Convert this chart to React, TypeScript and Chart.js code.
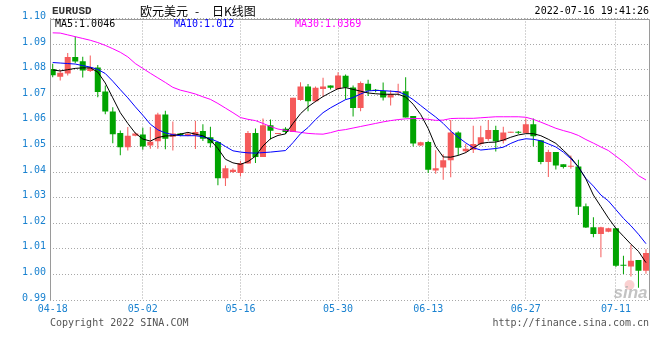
import React, { useEffect, useRef } from "react";
import { Chart, registerables } from "chart.js";

Chart.register(...registerables);

// ---- data ----
const opens = [
  1.0803, 1.0772, 1.0785, 1.0850, 1.0833, 1.0795, 1.0809, 1.0715, 1.0637, 1.0553,
  1.0497, 1.0542, 1.0547, 1.0504, 1.0520, 1.0625, 1.0538, 1.0551, 1.0542, 1.0543,
  1.0560, 1.0536, 1.0517, 1.0376, 1.0400, 1.0396, 1.0433, 1.0553, 1.0459, 1.0583,
  1.0549, 1.0569, 1.0556, 1.0682, 1.0734, 1.0677, 1.0725, 1.0738, 1.0725, 1.0776,
  1.0730, 1.0650, 1.0745, 1.0722, 1.0717, 1.0691, 1.0711, 1.0716, 1.0619, 1.0504,
  1.0517, 1.0406, 1.0418, 1.0446, 1.0555, 1.0481, 1.0487, 1.0510, 1.0529, 1.0564,
  1.0522, 1.0554, 1.0556, 1.0553, 1.0587, 1.0524, 1.0439, 1.0478, 1.0430, 1.0421,
  1.0422, 1.0266, 1.0184, 1.0158, 1.0167, 1.0180, 1.0036, 1.0031, 1.0056, 1.0014,
];
const closes = [
  1.0778, 1.0788, 1.0850, 1.0832, 1.0797, 1.0809, 1.0713, 1.0637, 1.0548, 1.0497,
  1.0542, 1.0551, 1.0500, 1.0518, 1.0625, 1.0530, 1.0551, 1.0543, 1.0550, 1.0556,
  1.0530, 1.0513, 1.0376, 1.0415, 1.0409, 1.0435, 1.0553, 1.0459, 1.0583, 1.0561,
  1.0551, 1.0556, 1.0690, 1.0734, 1.0677, 1.0729, 1.0734, 1.0729, 1.0777, 1.0730,
  1.0650, 1.0748, 1.0718, 1.0717, 1.0691, 1.0705, 1.0716, 1.0613, 1.0512, 1.0516,
  1.0409, 1.0415, 1.0446, 1.0555, 1.0495, 1.0491, 1.0510, 1.0536, 1.0564, 1.0520,
  1.0555, 1.0556, 1.0554, 1.0587, 1.0540, 1.0439, 1.0478, 1.0426, 1.0420, 1.0423,
  1.0264, 1.0183, 1.0158, 1.0184, 1.0180, 1.0034, 1.0034, 1.0053, 1.0014, 1.0084,
];
const highs = [
  1.0823, 1.0800, 1.0865, 1.0930, 1.0851, 1.0855, 1.0818, 1.0738, 1.0653, 1.0562,
  1.0576, 1.0555, 1.0573, 1.0576, 1.0632, 1.0640, 1.0598, 1.0553, 1.0554, 1.0600,
  1.0587, 1.0577, 1.0519, 1.0426, 1.0415, 1.0443, 1.0560, 1.0570, 1.0609, 1.0605,
  1.0551, 1.0575, 1.0690, 1.0751, 1.0744, 1.0734, 1.0768, 1.0738, 1.0790, 1.0781,
  1.0738, 1.0754, 1.0761, 1.0725, 1.0750, 1.0720, 1.0745, 1.0770, 1.0619, 1.0518,
  1.0522, 1.0485, 1.0470, 1.0603, 1.0559, 1.0510, 1.0581, 1.0581, 1.0603, 1.0581,
  1.0577, 1.0556, 1.0560, 1.0609, 1.0609, 1.0524, 1.0487, 1.0478, 1.0430, 1.0465,
  1.0448, 1.0277, 1.0223, 1.0186, 1.0182, 1.0180, 1.0073, 1.0116, 1.0056, 1.0098,
];
const lows = [
  1.0770, 1.0758, 1.0777, 1.0825, 1.0769, 1.0791, 1.0692, 1.0626, 1.0513, 1.0466,
  1.0484, 1.0540, 1.0487, 1.0491, 1.0491, 1.0489, 1.0484, 1.0540, 1.0540, 1.0490,
  1.0521, 1.0496, 1.0348, 1.0345, 1.0396, 1.0383, 1.0433, 1.0435, 1.0459, 1.0527,
  1.0549, 1.0549, 1.0556, 1.0679, 1.0638, 1.0673, 1.0694, 1.0723, 1.0721, 1.0683,
  1.0617, 1.0638, 1.0697, 1.0712, 1.0680, 1.0660, 1.0700, 1.0613, 1.0500, 1.0502,
  1.0396, 1.0393, 1.0370, 1.0380, 1.0465, 1.0475, 1.0474, 1.0504, 1.0522, 1.0480,
  1.0512, 1.0554, 1.0549, 1.0553, 1.0500, 1.0430, 1.0381, 1.0410, 1.0414, 1.0413,
  1.0232, 1.0181, 1.0145, 1.0067, 1.0165, 1.0029, 1.0002, 0.9992, 0.9948, 1.0003,
];
const ma5 = [
  1.0799, 1.0795, 1.0800, 1.0805, 1.0807, 1.0807, 1.0791, 1.0748, 1.0690, 1.0632,
  1.0590, 1.0552, 1.0529, 1.0521, 1.0535, 1.0541, 1.0542, 1.0548, 1.0555, 1.0548,
  1.0542, 1.0525, 1.0492, 1.0450, 1.0436, 1.0430, 1.0441, 1.0462, 1.0502, 1.0530,
  1.0543, 1.0549, 1.0590, 1.0628, 1.0655, 1.0676, 1.0695, 1.0711, 1.0726, 1.0730,
  1.0723, 1.0716, 1.0709, 1.0706, 1.0704, 1.0704, 1.0704, 1.0693, 1.0665, 1.0625,
  1.0570, 1.0500, 1.0459, 1.0458, 1.0465, 1.0476, 1.0495, 1.0512, 1.0516, 1.0517,
  1.0525, 1.0536, 1.0545, 1.0550, 1.0550, 1.0542, 1.0528, 1.0512, 1.0485, 1.0457,
  1.0420, 1.0373, 1.0310, 1.0265, 1.0220, 1.0180, 1.0149, 1.0118, 1.0090, 1.0046,
];
const ma10 = [
  1.0828, 1.0826, 1.0824, 1.0822, 1.0816, 1.0810, 1.0801, 1.0785, 1.0755, 1.0722,
  1.0690, 1.0655, 1.0622, 1.0587, 1.0565, 1.0553, 1.0546, 1.0542, 1.0542, 1.0542,
  1.0538, 1.0530, 1.0518, 1.0500, 1.0483, 1.0478, 1.0475, 1.0474, 1.0476, 1.0478,
  1.0481, 1.0484, 1.0515, 1.0550, 1.0574, 1.0605, 1.0632, 1.0651, 1.0667, 1.0683,
  1.0691, 1.0705, 1.0717, 1.0719, 1.0718, 1.0716, 1.0714, 1.0702, 1.0683, 1.0660,
  1.0637, 1.0615, 1.0590, 1.0560, 1.0536, 1.0514, 1.0495, 1.0486, 1.0489, 1.0492,
  1.0497, 1.0512, 1.0524, 1.0530, 1.0528, 1.0522, 1.0510, 1.0498, 1.0478, 1.0452,
  1.0420, 1.0375, 1.0345, 1.0310, 1.0287, 1.0253, 1.0219, 1.0190, 1.0157, 1.0120,
];
const ma30 = [
  1.0944, 1.0943, 1.0936, 1.0929, 1.0922, 1.0915, 1.0906, 1.0895, 1.0882, 1.0868,
  1.0850, 1.0824, 1.0805, 1.0786, 1.0768, 1.0750, 1.0731, 1.0720, 1.0713, 1.0705,
  1.0694, 1.0684, 1.0668, 1.0650, 1.0632, 1.0613, 1.0606, 1.0601, 1.0590, 1.0578,
  1.0568, 1.0563, 1.0559, 1.0555, 1.0551, 1.0549, 1.0548, 1.0554, 1.0562, 1.0566,
  1.0572, 1.0578, 1.0584, 1.0590, 1.0596, 1.0601, 1.0605, 1.0608, 1.0609, 1.0609,
  1.0606, 1.0602, 1.0603, 1.0609, 1.0610, 1.0610, 1.0610, 1.0612, 1.0614, 1.0616,
  1.0616, 1.0616, 1.0616, 1.0614, 1.0606, 1.0595, 1.0583, 1.0571, 1.0562, 1.0554,
  1.0543, 1.0527, 1.0513, 1.0498, 1.0484, 1.0462, 1.0440, 1.0414, 1.0386, 1.0369,
];
const yTicks = [0.99, 1.0, 1.01, 1.02, 1.03, 1.04, 1.05, 1.06, 1.07, 1.08, 1.09, 1.1];
const xTickIndex = [0, 12, 25, 38, 50, 63, 75];
const xTickLabels = ["04-18", "05-02", "05-16", "05-30", "06-13", "06-27", "07-11"];
const symbol = "EURUSD";
const titleText = "欧元美元 - 日K线图";
const timestamp = "2022-07-16 19:41:26";
const copyright = "Copyright 2022 SINA.COM";
const siteUrl = "http://finance.sina.com.cn";

const RED = "#f55a5a";
const GREEN = "#00a300";
const AXIS_BLUE = "#1a82d0";
const MONO = "'DejaVu Sans Mono', monospace";

const fmtMA = (v: number) => String(Number(v.toFixed(4)));

const decorPlugin = {
  id: "decor",
  beforeDraw(chart: any) {
    const { ctx, width, height } = chart;
    ctx.save();
    ctx.fillStyle = "#ffffff";
    ctx.fillRect(0, 0, width, height);
    ctx.restore();
  },
  beforeDatasetsDraw(chart: any) {
    const { ctx, chartArea: a } = chart;
    ctx.save();
    // faint sina watermark
    ctx.fillStyle = "rgba(245,170,170,0.55)";
    ctx.beginPath();
    ctx.arc(a.right - 20, a.bottom - 15, 5, 0, Math.PI * 2);
    ctx.fill();
    ctx.fillStyle = "rgba(175,175,175,0.75)";
    ctx.font = "italic bold 17px 'Liberation Sans', sans-serif";
    ctx.textAlign = "right";
    ctx.textBaseline = "alphabetic";
    ctx.fillText("sina", a.right - 2, a.bottom - 2);
    ctx.restore();
  },
  afterDraw(chart: any) {
    const { ctx, chartArea: a } = chart;
    ctx.save();
    // solid frame: left, top, right
    ctx.strokeStyle = "#9a9a9a";
    ctx.lineWidth = 1;
    const top = Math.round(a.top) + 0.5;
    const left = Math.round(a.left) + 0.5;
    const right = Math.round(a.right) - 0.5;
    ctx.beginPath();
    ctx.moveTo(left, Math.round(a.bottom));
    ctx.lineTo(left, top);
    ctx.lineTo(right, top);
    ctx.lineTo(right, Math.round(a.bottom));
    ctx.stroke();

    ctx.textBaseline = "middle";
    // header
    ctx.fillStyle = "#333333";
    ctx.font = "bold 11px 'Liberation Mono', monospace";
    ctx.textAlign = "left";
    ctx.fillText(symbol, 52, 11.5);

    ctx.fillStyle = "#000000";
    ctx.font = "12px 'Noto Sans CJK SC', sans-serif";
    const parts = titleText.split(" ");
    ctx.fillText(parts[0], 140, 11);
    ctx.fillText(parts[1], 195, 11);
    ctx.fillText(parts[2], 212, 11);

    ctx.font = `10px ${MONO}`;
    ctx.textAlign = "right";
    ctx.fillText(timestamp, 649, 11.5);

    // MA legend inside the plot
    ctx.textAlign = "left";
    ctx.fillStyle = "#000000";
    ctx.fillText("MA5:" + fmtMA(ma5[ma5.length - 1]), 55, 24);
    ctx.fillStyle = "#0000ff";
    ctx.fillText("MA10:" + fmtMA(ma10[ma10.length - 1]), 174, 24);
    ctx.fillStyle = "#ff00ff";
    ctx.fillText("MA30:" + fmtMA(ma30[ma30.length - 1]), 295, 24);

    // footer
    ctx.fillStyle = "#555555";
    ctx.fillText(copyright, 50, 323.5);
    ctx.textAlign = "right";
    ctx.fillText(siteUrl, 649, 323.5);
    ctx.restore();
  },
};

export default function App() {
  const ref = useRef<HTMLCanvasElement | null>(null);

  useEffect(() => {
    if (!ref.current) return;
    const idx = opens.map((_, i) => i);
    const colors = idx.map((i) => (closes[i] >= opens[i] ? RED : GREEN));
    const lineDs = (label: string, values: number[], color: string) => ({
      type: "line",
      label,
      data: idx.map((i) => ({ x: i, y: values[i] })),
      borderColor: color,
      borderWidth: 1,
      pointRadius: 0,
      tension: 0,
      order: 0,
    });
    const chart = new Chart(ref.current, {
      type: "bar",
      data: {
        datasets: [
          lineDs("MA5", ma5, "#000000") as any,
          lineDs("MA10", ma10, "#0000ff") as any,
          lineDs("MA30", ma30, "#ff00ff") as any,
          {
            type: "bar",
            label: "body",
            data: idx.map((i) => ({ x: i, y: [opens[i], closes[i]] })),
            backgroundColor: colors,
            borderWidth: 0,
            grouped: false,
            barPercentage: 0.8,
            categoryPercentage: 1,
            minBarLength: 1,
            order: 1,
          } as any,
          {
            type: "bar",
            label: "wick",
            data: idx.map((i) => ({ x: i, y: [lows[i], highs[i]] })),
            backgroundColor: colors,
            borderWidth: 0,
            grouped: false,
            maxBarThickness: 1,
            minBarLength: 1,
            order: 2,
          } as any,
        ],
      },
      options: {
        responsive: false,
        animation: false,
        devicePixelRatio: 1,
        layout: { padding: { top: 18.5, right: 10.5, left: 0, bottom: 0 } },
        plugins: { legend: { display: false }, tooltip: { enabled: false }, title: { display: false } },
        scales: {
          x: {
            type: "linear",
            offset: false,
            min: -0.36,
            max: 79.47,
            afterBuildTicks: (s: any) => {
              s.ticks = xTickIndex.map((v) => ({ value: v }));
            },
            afterFit: (s: any) => {
              s.height = 60;
            },
            ticks: {
              autoSkip: false,
              maxRotation: 0,
              padding: 3,
              color: AXIS_BLUE,
              font: { family: MONO, size: 10 },
              callback: (_v: any, i: number) => xTickLabels[i],
            },
            grid: {
              offset: false,
              drawTicks: false,
              color: (c: any) => (c.tick && c.tick.value === 0 ? "rgba(0,0,0,0)" : "#a8a8a8"),
              lineWidth: 1,
            },
            border: { display: false, dash: [1, 2] },
          },
          y: {
            type: "linear",
            min: 0.99,
            max: 1.1,
            afterBuildTicks: (s: any) => {
              s.ticks = yTicks.map((v) => ({ value: v }));
            },
            afterFit: (s: any) => {
              s.width = 50;
            },
            ticks: {
              padding: 4,
              labelOffset: -2,
              color: AXIS_BLUE,
              font: { family: MONO, size: 10 },
              callback: (v: any) => Number(v).toFixed(2),
            },
            grid: { drawTicks: false, color: "#a8a8a8", lineWidth: 1 },
            border: { display: false, dash: [1, 2] },
          },
        },
      } as any,
      plugins: [decorPlugin],
    });
    return () => chart.destroy();
  }, []);

  return (
    <div style={{ position: "fixed", left: 0, top: 0, width: 660, height: 360, background: "#fff" }}>
      <canvas ref={ref} width={660} height={360} style={{ display: "block", width: 660, height: 360 }} />
    </div>
  );
}
